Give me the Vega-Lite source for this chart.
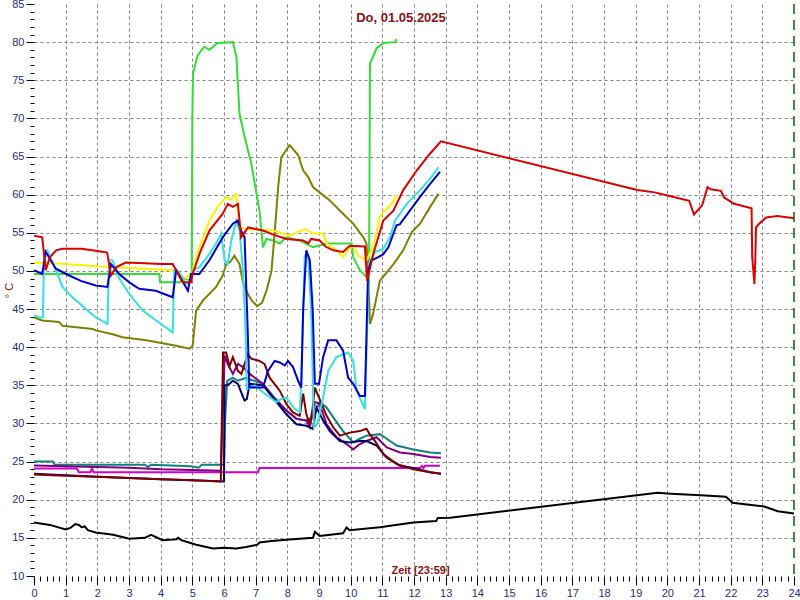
{
  "$schema": "https://vega.github.io/schema/vega-lite/v6.json",
  "width": 760,
  "height": 572,
  "autosize": "none",
  "padding": {"left": 34, "top": 4, "right": 6, "bottom": 24},
  "background": "white",
  "view": {"stroke": null},
  "title": {"text": "Do, 01.05.2025", "color": "#8b1010", "fontSize": 13, "fontWeight": "bold", "font": "Liberation Sans", "anchor": "middle", "offset": -27, "dx": -13},
  "layer": [
    {
      "data": {"values": [
        {"s":"black","h":0,"v":17.0},{"s":"black","h":0.5,"v":16.7},{"s":"black","h":1.0,"v":16.1},{"s":"black","h":1.15,"v":16.3},{"s":"black","h":1.3,"v":16.8},{"s":"black","h":1.42,"v":16.7},{"s":"black","h":1.5,"v":16.4},{"s":"black","h":1.6,"v":16.5},{"s":"black","h":1.7,"v":16.0},{"s":"black","h":1.95,"v":15.7},{"s":"black","h":2.5,"v":15.4},{"s":"black","h":3.01,"v":14.9},{"s":"black","h":3.5,"v":15.0},{"s":"black","h":3.7,"v":15.4},{"s":"black","h":3.8,"v":15.2},{"s":"black","h":4.06,"v":14.7},{"s":"black","h":4.49,"v":14.8},{"s":"black","h":4.55,"v":15.0},{"s":"black","h":4.65,"v":14.7},{"s":"black","h":5.12,"v":14.1},{"s":"black","h":5.65,"v":13.6},{"s":"black","h":6.0,"v":13.7},{"s":"black","h":6.39,"v":13.6},{"s":"black","h":6.7,"v":13.8},{"s":"black","h":7.05,"v":14.1},{"s":"black","h":7.12,"v":14.4},{"s":"black","h":7.5,"v":14.6},{"s":"black","h":8.07,"v":14.8},{"s":"black","h":8.81,"v":15.0},{"s":"black","h":8.87,"v":15.8},{"s":"black","h":9.02,"v":15.25},{"s":"black","h":9.76,"v":15.6},{"s":"black","h":9.87,"v":16.35},{"s":"black","h":9.97,"v":16.0},{"s":"black","h":10.92,"v":16.4},{"s":"black","h":11.98,"v":17.0},{"s":"black","h":12.7,"v":17.2},{"s":"black","h":12.75,"v":17.6},{"s":"black","h":13.14,"v":17.65},{"s":"black","h":19.69,"v":20.9},{"s":"black","h":20.1,"v":20.8},{"s":"black","h":21.06,"v":20.6},{"s":"black","h":21.85,"v":20.4},{"s":"black","h":22.06,"v":19.6},{"s":"black","h":23.06,"v":19.1},{"s":"black","h":23.49,"v":18.5},{"s":"black","h":24.0,"v":18.2},

        {"s":"magenta","h":0,"v":24.1},{"s":"magenta","h":1.35,"v":24.1},{"s":"magenta","h":1.42,"v":23.6},{"s":"magenta","h":1.78,"v":23.6},{"s":"magenta","h":1.83,"v":24.1},{"s":"magenta","h":1.88,"v":23.6},{"s":"magenta","h":7.07,"v":23.6},{"s":"magenta","h":7.12,"v":24.15},{"s":"magenta","h":12.19,"v":24.15},{"s":"magenta","h":12.25,"v":24.45},{"s":"magenta","h":12.3,"v":24.15},{"s":"magenta","h":12.35,"v":24.45},{"s":"magenta","h":12.82,"v":24.45},

        {"s":"teal","h":0,"v":25.0},{"s":"teal","h":0.6,"v":25.0},{"s":"teal","h":0.65,"v":24.6},{"s":"teal","h":3.5,"v":24.6},{"s":"teal","h":3.6,"v":24.3},{"s":"teal","h":3.7,"v":24.6},{"s":"teal","h":4.95,"v":24.4},{"s":"teal","h":5.2,"v":24.2},{"s":"teal","h":5.3,"v":24.6},{"s":"teal","h":6.0,"v":24.6},{"s":"teal","h":6.03,"v":30},{"s":"teal","h":6.1,"v":35.6},{"s":"teal","h":6.28,"v":36.0},{"s":"teal","h":6.44,"v":35.6},{"s":"teal","h":6.7,"v":36.0},{"s":"teal","h":6.81,"v":35.8},{"s":"teal","h":7.23,"v":35.2},{"s":"teal","h":7.55,"v":33.6},{"s":"teal","h":7.97,"v":31.7},{"s":"teal","h":8.29,"v":30.6},{"s":"teal","h":8.6,"v":30.4},{"s":"teal","h":8.81,"v":30.8},{"s":"teal","h":9.02,"v":32.8},{"s":"teal","h":9.24,"v":32.1},{"s":"teal","h":9.45,"v":30.8},{"s":"teal","h":9.76,"v":29.0},{"s":"teal","h":10.08,"v":27.5},{"s":"teal","h":10.29,"v":28.0},{"s":"teal","h":10.5,"v":28.4},{"s":"teal","h":10.92,"v":28.6},{"s":"teal","h":11.14,"v":28.0},{"s":"teal","h":11.45,"v":27.1},{"s":"teal","h":11.98,"v":26.6},{"s":"teal","h":12.51,"v":26.2},{"s":"teal","h":12.85,"v":26.1},

        {"s":"purple","h":0,"v":24.5},{"s":"purple","h":1,"v":24.4},{"s":"purple","h":2,"v":24.3},{"s":"purple","h":3,"v":24.2},{"s":"purple","h":4,"v":24.0},{"s":"purple","h":5,"v":23.9},{"s":"purple","h":5.9,"v":23.8},{"s":"purple","h":5.95,"v":30},{"s":"purple","h":6.02,"v":38.9},{"s":"purple","h":6.12,"v":37.8},{"s":"purple","h":6.28,"v":36.5},{"s":"purple","h":6.44,"v":37.8},{"s":"purple","h":6.6,"v":37.4},{"s":"purple","h":6.81,"v":36.5},{"s":"purple","h":7.23,"v":35.2},{"s":"purple","h":7.55,"v":33.4},{"s":"purple","h":7.97,"v":31.7},{"s":"purple","h":8.29,"v":30.6},{"s":"purple","h":8.6,"v":30.4},{"s":"purple","h":8.71,"v":29.5},{"s":"purple","h":8.87,"v":32.8},{"s":"purple","h":9.02,"v":32.6},{"s":"purple","h":9.24,"v":29.9},{"s":"purple","h":9.55,"v":28.2},{"s":"purple","h":9.87,"v":27.3},{"s":"purple","h":10.08,"v":26.6},{"s":"purple","h":10.29,"v":27.3},{"s":"purple","h":10.5,"v":27.7},{"s":"purple","h":10.82,"v":28.2},{"s":"purple","h":11.14,"v":26.85},{"s":"purple","h":11.56,"v":26.2},{"s":"purple","h":11.98,"v":26.0},{"s":"purple","h":12.51,"v":25.6},{"s":"purple","h":12.85,"v":25.5},

        {"s":"navy","h":0,"v":23.4},{"s":"navy","h":1,"v":23.2},{"s":"navy","h":2,"v":23.0},{"s":"navy","h":3,"v":22.85},{"s":"navy","h":4,"v":22.7},{"s":"navy","h":5,"v":22.55},{"s":"navy","h":6.0,"v":22.4},{"s":"navy","h":6.02,"v":35.0},{"s":"navy","h":6.12,"v":35.0},{"s":"navy","h":6.28,"v":35.6},{"s":"navy","h":6.44,"v":35.2},{"s":"navy","h":6.6,"v":33.5},{"s":"navy","h":6.65,"v":33.0},{"s":"navy","h":6.72,"v":33.2},{"s":"navy","h":6.81,"v":35.2},{"s":"navy","h":7.23,"v":35.0},{"s":"navy","h":7.55,"v":33.4},{"s":"navy","h":7.97,"v":31.2},{"s":"navy","h":8.29,"v":29.9},{"s":"navy","h":8.6,"v":29.7},{"s":"navy","h":8.81,"v":29.3},{"s":"navy","h":8.92,"v":32.1},{"s":"navy","h":9.13,"v":30.4},{"s":"navy","h":9.34,"v":29.0},{"s":"navy","h":9.66,"v":27.7},{"s":"navy","h":9.97,"v":27.5},{"s":"navy","h":10.29,"v":27.7},{"s":"navy","h":10.5,"v":27.7},{"s":"navy","h":10.82,"v":27.1},{"s":"navy","h":11.14,"v":25.5},{"s":"navy","h":11.56,"v":24.45},{"s":"navy","h":11.98,"v":24.15},{"s":"navy","h":12.51,"v":23.6},{"s":"navy","h":12.85,"v":23.4},

        {"s":"maroon","h":0,"v":23.3},{"s":"maroon","h":1,"v":23.15},{"s":"maroon","h":2,"v":23.0},{"s":"maroon","h":3,"v":22.85},{"s":"maroon","h":4,"v":22.7},{"s":"maroon","h":5,"v":22.55},{"s":"maroon","h":5.9,"v":22.4},{"s":"maroon","h":5.93,"v":30},{"s":"maroon","h":5.97,"v":39.3},{"s":"maroon","h":6.07,"v":39.3},{"s":"maroon","h":6.17,"v":37.5},{"s":"maroon","h":6.28,"v":38.7},{"s":"maroon","h":6.44,"v":36.9},{"s":"maroon","h":6.55,"v":36.5},{"s":"maroon","h":6.75,"v":39.1},{"s":"maroon","h":6.86,"v":38.5},{"s":"maroon","h":7.12,"v":38.2},{"s":"maroon","h":7.28,"v":37.8},{"s":"maroon","h":7.44,"v":36.0},{"s":"maroon","h":7.76,"v":34.3},{"s":"maroon","h":7.97,"v":32.55},{"s":"maroon","h":8.18,"v":31.45},{"s":"maroon","h":8.39,"v":31.0},{"s":"maroon","h":8.5,"v":33.9},{"s":"maroon","h":8.6,"v":31.2},{"s":"maroon","h":8.71,"v":29.9},{"s":"maroon","h":8.8,"v":32},{"s":"maroon","h":8.87,"v":34.7},{"s":"maroon","h":9.02,"v":33.2},{"s":"maroon","h":9.24,"v":31.0},{"s":"maroon","h":9.45,"v":29.5},{"s":"maroon","h":9.66,"v":28.4},{"s":"maroon","h":9.97,"v":28.8},{"s":"maroon","h":10.29,"v":29.0},{"s":"maroon","h":10.5,"v":29.3},{"s":"maroon","h":10.6,"v":28.6},{"s":"maroon","h":10.77,"v":27.7},{"s":"maroon","h":11.03,"v":26.0},{"s":"maroon","h":11.45,"v":24.7},{"s":"maroon","h":11.98,"v":24.0},{"s":"maroon","h":12.51,"v":23.6},{"s":"maroon","h":12.85,"v":23.4},

        {"s":"green","h":0,"v":49.6},{"s":"green","h":3.96,"v":49.6},{"s":"green","h":3.98,"v":48.5},{"s":"green","h":4.6,"v":48.5},{"s":"green","h":4.75,"v":49.0},{"s":"green","h":4.9,"v":48.8},{"s":"green","h":4.98,"v":49.2},{"s":"green","h":5.0,"v":70},{"s":"green","h":5.02,"v":75.9},{"s":"green","h":5.17,"v":78.3},{"s":"green","h":5.38,"v":79.4},{"s":"green","h":5.54,"v":79.0},{"s":"green","h":5.8,"v":79.9},{"s":"green","h":6.28,"v":80.0},{"s":"green","h":6.39,"v":78.1},{"s":"green","h":6.49,"v":70.6},{"s":"green","h":6.65,"v":67.6},{"s":"green","h":6.86,"v":64.1},{"s":"green","h":7.12,"v":57.9},{"s":"green","h":7.23,"v":53.1},{"s":"green","h":7.34,"v":54.2},{"s":"green","h":7.55,"v":54.0},{"s":"green","h":7.76,"v":53.6},{"s":"green","h":7.97,"v":54.4},{"s":"green","h":8.39,"v":54.0},{"s":"green","h":8.81,"v":53.1},{"s":"green","h":9.24,"v":53.6},{"s":"green","h":10.03,"v":53.6},{"s":"green","h":10.08,"v":51.8},{"s":"green","h":10.29,"v":50.1},{"s":"green","h":10.5,"v":49.2},{"s":"green","h":10.58,"v":48.7},{"s":"green","h":10.61,"v":77.2},{"s":"green","h":10.82,"v":79.2},{"s":"green","h":11.03,"v":79.9},{"s":"green","h":11.4,"v":80.0},{"s":"green","h":11.45,"v":80.4},

        {"s":"olive","h":0,"v":43.9},{"s":"olive","h":0.2,"v":43.6},{"s":"olive","h":0.26,"v":43.5},{"s":"olive","h":0.79,"v":43.3},{"s":"olive","h":0.9,"v":42.8},{"s":"olive","h":1.85,"v":42.4},{"s":"olive","h":1.95,"v":42.2},{"s":"olive","h":2.48,"v":41.7},{"s":"olive","h":2.8,"v":41.3},{"s":"olive","h":3.54,"v":40.9},{"s":"olive","h":4.49,"v":40.2},{"s":"olive","h":4.91,"v":39.8},{"s":"olive","h":5.01,"v":40.2},{"s":"olive","h":5.12,"v":44.8},{"s":"olive","h":5.33,"v":46.1},{"s":"olive","h":5.75,"v":47.9},{"s":"olive","h":5.96,"v":49.4},{"s":"olive","h":6.07,"v":50.9},{"s":"olive","h":6.2,"v":51.2},{"s":"olive","h":6.33,"v":52.0},{"s":"olive","h":6.49,"v":50.9},{"s":"olive","h":6.6,"v":48.5},{"s":"olive","h":6.75,"v":47.0},{"s":"olive","h":6.9,"v":46.0},{"s":"olive","h":7.05,"v":45.4},{"s":"olive","h":7.2,"v":45.8},{"s":"olive","h":7.35,"v":47.5},{"s":"olive","h":7.5,"v":50},{"s":"olive","h":7.6,"v":55},{"s":"olive","h":7.71,"v":61.0},{"s":"olive","h":7.81,"v":64.9},{"s":"olive","h":8.07,"v":66.5},{"s":"olive","h":8.34,"v":65.2},{"s":"olive","h":8.5,"v":63.2},{"s":"olive","h":8.66,"v":62.3},{"s":"olive","h":8.81,"v":61.0},{"s":"olive","h":9.02,"v":60.3},{"s":"olive","h":9.34,"v":59.25},{"s":"olive","h":9.76,"v":57.5},{"s":"olive","h":10.08,"v":56.2},{"s":"olive","h":10.4,"v":54.4},{"s":"olive","h":10.5,"v":53.6},{"s":"olive","h":10.55,"v":50},{"s":"olive","h":10.61,"v":43.05},{"s":"olive","h":10.71,"v":44.4},{"s":"olive","h":10.92,"v":48.7},{"s":"olive","h":11.14,"v":49.8},{"s":"olive","h":11.35,"v":50.9},{"s":"olive","h":11.66,"v":52.7},{"s":"olive","h":11.93,"v":55.1},{"s":"olive","h":12.19,"v":56.2},{"s":"olive","h":12.51,"v":58.4},{"s":"olive","h":12.77,"v":60.1},

        {"s":"yellow","h":0,"v":51.1},{"s":"yellow","h":1.0,"v":50.9},{"s":"yellow","h":2.0,"v":50.6},{"s":"yellow","h":3.0,"v":50.4},{"s":"yellow","h":4.38,"v":50.1},{"s":"yellow","h":4.6,"v":49.5},{"s":"yellow","h":4.8,"v":49.0},{"s":"yellow","h":5.01,"v":50.1},{"s":"yellow","h":5.22,"v":53.1},{"s":"yellow","h":5.54,"v":56.6},{"s":"yellow","h":5.8,"v":58.4},{"s":"yellow","h":6.07,"v":59.7},{"s":"yellow","h":6.2,"v":59.3},{"s":"yellow","h":6.39,"v":60.1},{"s":"yellow","h":6.49,"v":55.7},{"s":"yellow","h":6.7,"v":55.5},{"s":"yellow","h":7.55,"v":55.3},{"s":"yellow","h":8.07,"v":54.65},{"s":"yellow","h":8.55,"v":55.5},{"s":"yellow","h":8.81,"v":54.9},{"s":"yellow","h":9.13,"v":54.9},{"s":"yellow","h":9.24,"v":53.6},{"s":"yellow","h":9.55,"v":52.7},{"s":"yellow","h":9.76,"v":51.8},{"s":"yellow","h":9.97,"v":53.1},{"s":"yellow","h":10.08,"v":53.1},{"s":"yellow","h":10.29,"v":51.8},{"s":"yellow","h":10.5,"v":51.4},{"s":"yellow","h":10.71,"v":53.1},{"s":"yellow","h":10.92,"v":57.1},{"s":"yellow","h":11.08,"v":57.9},{"s":"yellow","h":11.3,"v":58.8},{"s":"yellow","h":11.45,"v":60.0},

        {"s":"cyan","h":0,"v":44.2},{"s":"cyan","h":0.16,"v":43.9},{"s":"cyan","h":0.28,"v":43.9},{"s":"cyan","h":0.32,"v":52.5},{"s":"cyan","h":0.42,"v":52.7},{"s":"cyan","h":0.69,"v":50.1},{"s":"cyan","h":0.9,"v":47.9},{"s":"cyan","h":1.21,"v":46.55},{"s":"cyan","h":1.64,"v":45.0},{"s":"cyan","h":1.95,"v":43.9},{"s":"cyan","h":2.32,"v":43.05},{"s":"cyan","h":2.37,"v":51.4},{"s":"cyan","h":2.48,"v":51.4},{"s":"cyan","h":2.69,"v":49.0},{"s":"cyan","h":3.01,"v":47.0},{"s":"cyan","h":3.43,"v":44.8},{"s":"cyan","h":3.85,"v":43.5},{"s":"cyan","h":4.38,"v":41.95},{"s":"cyan","h":4.43,"v":50.1},{"s":"cyan","h":4.55,"v":50.0},{"s":"cyan","h":4.8,"v":48.3},{"s":"cyan","h":4.9,"v":48.5},{"s":"cyan","h":5.01,"v":50.1},{"s":"cyan","h":5.22,"v":50.5},{"s":"cyan","h":5.5,"v":52.0},{"s":"cyan","h":5.75,"v":53.6},{"s":"cyan","h":5.91,"v":54.9},{"s":"cyan","h":6.02,"v":51.4},{"s":"cyan","h":6.12,"v":50.9},{"s":"cyan","h":6.23,"v":54.0},{"s":"cyan","h":6.39,"v":56.6},{"s":"cyan","h":6.49,"v":55.3},{"s":"cyan","h":6.6,"v":50},{"s":"cyan","h":6.68,"v":42},{"s":"cyan","h":6.72,"v":34.5},{"s":"cyan","h":6.97,"v":35.0},{"s":"cyan","h":7.23,"v":34.1},{"s":"cyan","h":7.65,"v":32.8},{"s":"cyan","h":7.8,"v":33.2},{"s":"cyan","h":7.97,"v":33.4},{"s":"cyan","h":8.07,"v":32.8},{"s":"cyan","h":8.23,"v":31.9},{"s":"cyan","h":8.4,"v":31.5},{"s":"cyan","h":8.47,"v":40},{"s":"cyan","h":8.55,"v":52.0},{"s":"cyan","h":8.66,"v":51.8},{"s":"cyan","h":8.75,"v":45},{"s":"cyan","h":8.84,"v":29.5},{"s":"cyan","h":8.95,"v":30.0},{"s":"cyan","h":9.13,"v":33.4},{"s":"cyan","h":9.29,"v":36.9},{"s":"cyan","h":9.55,"v":38.7},{"s":"cyan","h":9.92,"v":39.3},{"s":"cyan","h":10.08,"v":38.2},{"s":"cyan","h":10.19,"v":34.3},{"s":"cyan","h":10.35,"v":32.8},{"s":"cyan","h":10.45,"v":31.9},{"s":"cyan","h":10.52,"v":42},{"s":"cyan","h":10.58,"v":51.0},{"s":"cyan","h":10.77,"v":52.5},{"s":"cyan","h":11.03,"v":52.9},{"s":"cyan","h":11.24,"v":54.4},{"s":"cyan","h":11.4,"v":56.6},{"s":"cyan","h":11.77,"v":58.8},{"s":"cyan","h":12.19,"v":60.6},{"s":"cyan","h":12.51,"v":62.1},{"s":"cyan","h":12.77,"v":63.6},

        {"s":"blue","h":0,"v":50.1},{"s":"blue","h":0.26,"v":49.6},{"s":"blue","h":0.37,"v":52.5},{"s":"blue","h":0.69,"v":50.3},{"s":"blue","h":1.11,"v":49.4},{"s":"blue","h":1.48,"v":48.7},{"s":"blue","h":1.95,"v":48.1},{"s":"blue","h":2.32,"v":47.9},{"s":"blue","h":2.43,"v":50.9},{"s":"blue","h":2.69,"v":49.6},{"s":"blue","h":3.01,"v":48.5},{"s":"blue","h":3.32,"v":47.65},{"s":"blue","h":3.85,"v":47.4},{"s":"blue","h":4.38,"v":46.55},{"s":"blue","h":4.49,"v":50.1},{"s":"blue","h":4.86,"v":47.4},{"s":"blue","h":4.96,"v":49.6},{"s":"blue","h":5.22,"v":49.6},{"s":"blue","h":5.54,"v":51.4},{"s":"blue","h":5.96,"v":54.4},{"s":"blue","h":6.28,"v":56.2},{"s":"blue","h":6.44,"v":56.6},{"s":"blue","h":6.54,"v":55.3},{"s":"blue","h":6.65,"v":54.4},{"s":"blue","h":6.75,"v":42},{"s":"blue","h":6.8,"v":34.7},{"s":"blue","h":7.23,"v":34.7},{"s":"blue","h":7.39,"v":36.9},{"s":"blue","h":7.6,"v":38.2},{"s":"blue","h":7.76,"v":38.0},{"s":"blue","h":7.92,"v":37.6},{"s":"blue","h":8.02,"v":38.2},{"s":"blue","h":8.18,"v":37.4},{"s":"blue","h":8.34,"v":35.6},{"s":"blue","h":8.44,"v":34.7},{"s":"blue","h":8.5,"v":45},{"s":"blue","h":8.6,"v":52.7},{"s":"blue","h":8.71,"v":51.4},{"s":"blue","h":8.8,"v":45},{"s":"blue","h":8.87,"v":35.2},{"s":"blue","h":9.0,"v":35.2},{"s":"blue","h":9.13,"v":38.7},{"s":"blue","h":9.29,"v":40.9},{"s":"blue","h":9.55,"v":40.9},{"s":"blue","h":9.76,"v":39.55},{"s":"blue","h":9.92,"v":36.0},{"s":"blue","h":10.08,"v":35.2},{"s":"blue","h":10.29,"v":33.6},{"s":"blue","h":10.45,"v":33.6},{"s":"blue","h":10.55,"v":50.1},{"s":"blue","h":10.66,"v":51.4},{"s":"blue","h":10.87,"v":51.8},{"s":"blue","h":11.03,"v":52.2},{"s":"blue","h":11.19,"v":53.1},{"s":"blue","h":11.45,"v":56.0},{"s":"blue","h":11.55,"v":56.1},{"s":"blue","h":11.87,"v":57.9},{"s":"blue","h":12.19,"v":59.7},{"s":"blue","h":12.51,"v":61.4},{"s":"blue","h":12.82,"v":63.0},

        {"s":"red","h":0,"v":54.6},{"s":"red","h":0.26,"v":54.4},{"s":"red","h":0.37,"v":50.1},{"s":"red","h":0.5,"v":51.8},{"s":"red","h":0.7,"v":52.7},{"s":"red","h":0.89,"v":52.9},{"s":"red","h":1.5,"v":52.9},{"s":"red","h":2.0,"v":52.6},{"s":"red","h":2.31,"v":52.4},{"s":"red","h":2.43,"v":49.4},{"s":"red","h":2.6,"v":50.5},{"s":"red","h":2.9,"v":51.1},{"s":"red","h":3.5,"v":51.0},{"s":"red","h":4.0,"v":50.9},{"s":"red","h":4.38,"v":50.9},{"s":"red","h":4.69,"v":48.5},{"s":"red","h":4.96,"v":48.5},{"s":"red","h":5.01,"v":49.6},{"s":"red","h":5.25,"v":52.5},{"s":"red","h":5.54,"v":55.3},{"s":"red","h":5.96,"v":57.5},{"s":"red","h":6.12,"v":58.8},{"s":"red","h":6.28,"v":58.4},{"s":"red","h":6.44,"v":58.8},{"s":"red","h":6.54,"v":54.4},{"s":"red","h":6.76,"v":55.7},{"s":"red","h":7.23,"v":55.3},{"s":"red","h":7.6,"v":54.7},{"s":"red","h":7.97,"v":54.2},{"s":"red","h":8.5,"v":54.0},{"s":"red","h":8.66,"v":53.6},{"s":"red","h":8.75,"v":54.2},{"s":"red","h":9.02,"v":54.0},{"s":"red","h":9.2,"v":53.2},{"s":"red","h":9.45,"v":52.7},{"s":"red","h":9.76,"v":52.5},{"s":"red","h":9.97,"v":53.3},{"s":"red","h":10.45,"v":53.2},{"s":"red","h":10.52,"v":48.7},{"s":"red","h":10.71,"v":52.2},{"s":"red","h":11.03,"v":56.6},{"s":"red","h":11.35,"v":57.9},{"s":"red","h":11.66,"v":60.6},{"s":"red","h":12.09,"v":63.2},{"s":"red","h":12.51,"v":65.4},{"s":"red","h":12.85,"v":67.0},{"s":"red","h":19.05,"v":60.6},{"s":"red","h":19.6,"v":60.3},{"s":"red","h":20.0,"v":59.9},{"s":"red","h":20.69,"v":59.2},{"s":"red","h":20.84,"v":57.4},{"s":"red","h":21.1,"v":58.6},{"s":"red","h":21.27,"v":61.0},{"s":"red","h":21.37,"v":60.7},{"s":"red","h":21.69,"v":60.5},{"s":"red","h":21.8,"v":59.6},{"s":"red","h":22.11,"v":58.8},{"s":"red","h":22.66,"v":58.2},{"s":"red","h":22.68,"v":51.8},{"s":"red","h":22.75,"v":48.3},{"s":"red","h":22.78,"v":51.8},{"s":"red","h":22.8,"v":55.7},{"s":"red","h":22.9,"v":56.2},{"s":"red","h":23.12,"v":57.0},{"s":"red","h":23.48,"v":57.2},{"s":"red","h":24.0,"v":56.9}
      ]},
      "mark": {"type": "line", "strokeWidth": 2, "clip": true},
      "encoding": {
        "x": {"field": "h", "type": "quantitative",
          "scale": {"domain": [0, 24], "nice": false, "zero": false},
          "axis": {
            "values": [0,0.2,0.4,0.6,0.8,1,1.2,1.4,1.6,1.8,2,2.2,2.4,2.6,2.8,3,3.2,3.4,3.6,3.8,4,4.2,4.4,4.6,4.8,5,5.2,5.4,5.6,5.8,6,6.2,6.4,6.6,6.8,7,7.2,7.4,7.6,7.8,8,8.2,8.4,8.6,8.8,9,9.2,9.4,9.6,9.8,10,10.2,10.4,10.6,10.8,11,11.2,11.4,11.6,11.8,12,12.2,12.4,12.6,12.8,13,13.2,13.4,13.6,13.8,14,14.2,14.4,14.6,14.8,15,15.2,15.4,15.6,15.8,16,16.2,16.4,16.6,16.8,17,17.2,17.4,17.6,17.8,18,18.2,18.4,18.6,18.8,19,19.2,19.4,19.6,19.8,20,20.2,20.4,20.6,20.8,21,21.2,21.4,21.6,21.8,22,22.2,22.4,22.6,22.8,23,23.2,23.4,23.6,23.8,24],
            "tickCount": 200,
            "labelExpr": "abs(datum.value - round(datum.value)) < 0.001 ? format(round(datum.value), 'd') : ''",
            "domain": false,
            "tickColor": "#000000",
            "tickSize": {"condition": {"test": "abs(datum.value - round(datum.value)) < 0.001", "value": 9}, "value": 5},
            "grid": true,
            "gridColor": "#808080",
            "gridDash": [3, 3],
            "gridOpacity": {"condition": {"test": "abs(datum.value - round(datum.value)) < 0.001 && datum.value > 0 && datum.value < 24", "value": 1}, "value": 0},
            "labelColor": "#2a2a7a",
            "labelFont": "Liberation Sans",
            "labelFontSize": 11,
            "labelPadding": 2,
            "labelFlush": false,
            "labelOverlap": false,
            "title": "Zeit [23:59]",
            "titleColor": "#8b1010",
            "titleFont": "Liberation Sans",
            "titleFontSize": 11,
            "titleFontWeight": "bold",
            "titleX": 386,
            "titleY": -1,
            "titleBaseline": "bottom"
          }
        },
        "y": {"field": "v", "type": "quantitative",
          "scale": {"domain": [10, 85], "nice": false, "zero": false},
          "axis": {
            "values": [10,11,12,13,14,15,16,17,18,19,20,21,22,23,24,25,26,27,28,29,30,31,32,33,34,35,36,37,38,39,40,41,42,43,44,45,46,47,48,49,50,51,52,53,54,55,56,57,58,59,60,61,62,63,64,65,66,67,68,69,70,71,72,73,74,75,76,77,78,79,80,81,82,83,84,85],
            "tickCount": 200,
            "labelExpr": "datum.value % 5 === 0 ? format(datum.value, 'd') : ''",
            "domain": false,
            "tickColor": "#000000",
            "tickSize": {"condition": {"test": "datum.value % 5 === 0", "value": 8}, "value": 4},
            "grid": true,
            "gridColor": "#808080",
            "gridDash": [3, 3],
            "gridOpacity": {"condition": {"test": "datum.value % 5 === 0 && datum.value > 10 && datum.value < 85", "value": 1}, "value": 0},
            "labelColor": "#2a2a7a",
            "labelFont": "Liberation Sans",
            "labelFontSize": 11,
            "labelPadding": 2,
            "labelFlush": false,
            "labelOverlap": false,
            "title": "° C",
            "titleColor": "#8b1010",
            "titleFont": "Liberation Sans",
            "titleFontSize": 11,
            "titleFontWeight": "normal",
            "titleX": -20,
            "titleY": 286,
            "titleAlign": "center"
          }
        },
        "color": {"field": "s", "type": "nominal", "legend": null,
          "scale": {
            "domain": ["black","magenta","teal","purple","navy","maroon","green","olive","yellow","cyan","blue","red"],
            "range": ["#000000","#d000d0","#108080","#800080","#000070","#800000","#33dd33","#808000","#f5f500","#33e0e0","#0000d0","#dd0000"]
          }
        }
      }
    },
    {
      "data": {"values": [{"t": 24}]},
      "mark": {"type": "rule", "color": "#006400", "strokeDash": [10, 6], "strokeWidth": 1.5},
      "encoding": {"x": {"field": "t", "type": "quantitative"}}
    }
  ]
}
